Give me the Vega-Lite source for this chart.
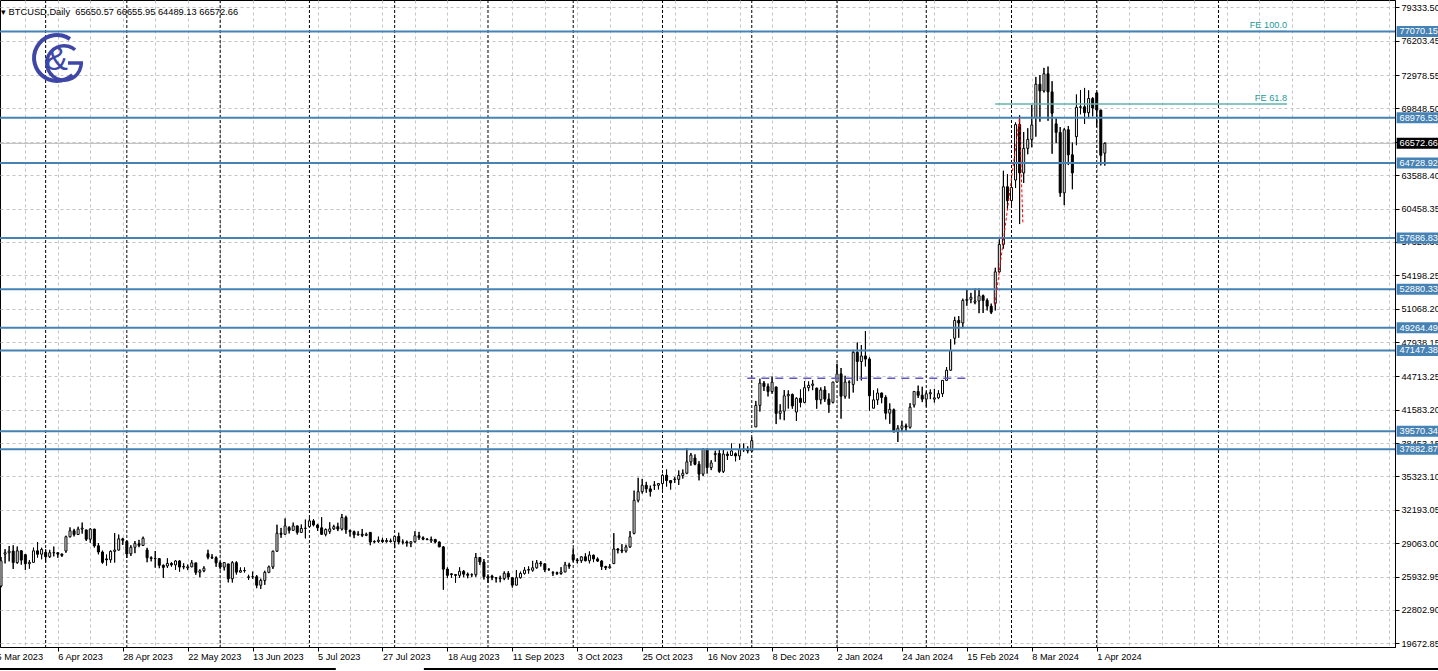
{
  "$schema": "https://vega.github.io/schema/vega-lite/v6.json",
  "width": 1395,
  "height": 647,
  "autosize": {"type": "none"},
  "padding": {"left": 0, "top": 0, "right": 43, "bottom": 24},
  "background": "white",
  "config": {"view": {"stroke": "black", "strokeWidth": 1}, "font": "Liberation Sans", "scale": {"continuousPadding": 0}},
  "title": {"text": "▾ BTCUSD,Daily\u00a0 65650.57 66655.95 64489.13 66572.66", "anchor": "start", "frame": "group", "orient": "top", "offset": -22, "fontSize": 9.3, "font": "Liberation Sans", "fontWeight": "normal", "color": "black", "baseline": "middle", "dx": 1},
  "datasets": {
    "candles": [
      {"i":0,"o":25040,"h":27760,"l":24930,"c":27420},{"i":1,"o":28040,"h":28500,"l":27170,"c":28170},{"i":2,"o":28170,"h":28800,"l":27360,"c":28320},{"i":3,"o":28320,"h":28870,"l":26650,"c":27250},{"i":4,"o":27250,"h":28750,"l":27140,"c":28350},{"i":5,"o":28350,"h":28400,"l":27050,"c":27480},{"i":6,"o":27990,"h":28030,"l":26560,"c":27140},{"i":7,"o":27140,"h":27490,"l":26680,"c":27270},{"i":8,"o":27270,"h":28650,"l":27250,"c":28350},{"i":9,"o":28350,"h":29170,"l":27720,"c":28030},
      {"i":10,"o":28030,"h":28640,"l":27560,"c":28480},{"i":11,"o":28200,"h":28490,"l":27270,"c":27800},{"i":12,"o":27800,"h":28440,"l":27680,"c":28170},{"i":13,"o":28170,"h":28750,"l":27830,"c":28180},{"i":14,"o":28170,"h":28190,"l":27700,"c":28040},{"i":15,"o":28040,"h":28100,"l":27780,"c":27920},{"i":16,"o":28330,"h":29770,"l":28170,"c":29670},{"i":17,"o":29670,"h":30550,"l":29610,"c":30230},{"i":18,"o":30230,"h":30410,"l":29700,"c":29880},{"i":19,"o":29880,"h":30610,"l":29850,"c":30390},
      {"i":20,"o":30390,"h":31000,"l":29970,"c":30480},{"i":21,"o":30310,"h":30320,"l":29270,"c":29440},{"i":22,"o":29440,"h":30470,"l":29110,"c":30390},{"i":23,"o":30390,"h":30410,"l":28660,"c":28820},{"i":24,"o":28820,"h":29080,"l":28020,"c":28240},{"i":25,"o":28240,"h":28370,"l":27140,"c":27270},{"i":26,"o":27590,"h":28000,"l":26970,"c":27510},{"i":27,"o":27510,"h":28390,"l":27240,"c":28300},{"i":28,"o":28300,"h":30020,"l":27250,"c":28420},{"i":29,"o":28420,"h":29870,"l":28390,"c":29470},
      {"i":30,"o":29470,"h":29570,"l":28900,"c":29340},{"i":31,"o":29230,"h":29330,"l":27680,"c":28070},{"i":32,"o":28070,"h":28880,"l":27870,"c":28680},{"i":33,"o":28680,"h":29270,"l":28130,"c":29030},{"i":34,"o":29030,"h":29380,"l":28690,"c":28850},{"i":35,"o":28850,"h":29680,"l":28800,"c":29530},{"i":36,"o":28430,"h":28630,"l":27280,"c":27700},{"i":37,"o":27700,"h":27830,"l":27360,"c":27630},{"i":38,"o":27630,"h":28330,"l":26770,"c":27620},{"i":39,"o":27620,"h":27640,"l":26720,"c":26990},
      {"i":40,"o":26990,"h":27060,"l":25810,"c":26800},{"i":41,"o":26930,"h":27650,"l":26750,"c":27170},{"i":42,"o":27170,"h":27290,"l":26870,"c":27030},{"i":43,"o":27030,"h":27470,"l":26570,"c":27400},{"i":44,"o":27400,"h":27460,"l":26390,"c":26830},{"i":45,"o":26830,"h":27180,"l":26630,"c":26890},{"i":46,"o":26750,"h":27060,"l":26540,"c":26850},{"i":47,"o":26850,"h":27480,"l":26810,"c":27220},{"i":48,"o":27220,"h":27220,"l":26100,"c":26330},{"i":49,"o":26330,"h":26620,"l":25880,"c":26480},
      {"i":50,"o":26480,"h":26900,"l":26350,"c":26720},{"i":51,"o":28080,"h":28450,"l":27560,"c":27750},{"i":52,"o":27750,"h":28040,"l":27580,"c":27700},{"i":53,"o":27700,"h":27830,"l":26850,"c":27220},{"i":54,"o":27220,"h":27350,"l":26610,"c":26820},{"i":55,"o":26820,"h":27300,"l":26510,"c":27250},{"i":56,"o":27120,"h":27130,"l":25390,"c":25730},{"i":57,"o":25730,"h":27380,"l":25380,"c":27240},{"i":58,"o":27240,"h":27370,"l":26130,"c":26350},{"i":59,"o":26350,"h":26790,"l":26320,"c":26500},
      {"i":60,"o":26500,"h":26790,"l":26320,"c":26480},{"i":61,"o":25850,"h":26100,"l":25620,"c":25910},{"i":62,"o":25910,"h":26400,"l":25730,"c":25920},{"i":63,"o":25920,"h":26080,"l":24850,"c":25120},{"i":64,"o":25120,"h":25740,"l":24770,"c":25570},{"i":65,"o":25570,"h":26480,"l":25160,"c":26330},{"i":66,"o":26330,"h":26960,"l":26260,"c":26840},{"i":67,"o":26840,"h":28370,"l":26650,"c":28310},{"i":68,"o":28310,"h":30800,"l":28270,"c":30000},{"i":69,"o":30000,"h":30500,"l":29570,"c":29900},
      {"i":70,"o":29900,"h":31390,"l":29840,"c":30690},{"i":71,"o":30530,"h":30660,"l":29980,"c":30270},{"i":72,"o":30270,"h":31000,"l":30230,"c":30690},{"i":73,"o":30690,"h":30700,"l":29880,"c":30080},{"i":74,"o":30080,"h":30820,"l":30050,"c":30450},{"i":75,"o":30450,"h":31280,"l":29520,"c":30480},{"i":76,"o":30620,"h":31390,"l":30590,"c":31160},{"i":77,"o":31160,"h":31320,"l":30650,"c":30770},{"i":78,"o":30770,"h":30880,"l":30220,"c":30510},{"i":79,"o":30510,"h":31500,"l":29850,"c":29900},
      {"i":80,"o":29900,"h":30440,"l":29720,"c":30350},{"i":81,"o":30170,"h":31030,"l":29950,"c":30410},{"i":82,"o":30410,"h":30790,"l":30300,"c":30620},{"i":83,"o":30620,"h":30980,"l":30200,"c":30390},{"i":84,"o":30390,"h":31810,"l":30260,"c":31480},{"i":85,"o":31480,"h":31640,"l":29950,"c":30320},{"i":86,"o":30250,"h":30340,"l":29690,"c":30140},{"i":87,"o":30140,"h":30240,"l":29540,"c":29860},{"i":88,"o":29860,"h":30190,"l":29770,"c":29910},{"i":89,"o":29910,"h":30400,"l":29640,"c":29800},
      {"i":90,"o":29800,"h":30050,"l":29730,"c":29900},{"i":91,"o":30080,"h":30100,"l":28880,"c":29180},{"i":92,"o":29180,"h":29330,"l":29070,"c":29230},{"i":93,"o":29230,"h":29680,"l":29110,"c":29350},{"i":94,"o":29350,"h":29570,"l":29090,"c":29210},{"i":95,"o":29210,"h":29530,"l":29130,"c":29320},{"i":96,"o":29280,"h":29490,"l":29140,"c":29230},{"i":97,"o":29230,"h":29730,"l":28600,"c":29700},{"i":98,"o":29700,"h":30050,"l":28960,"c":29180},{"i":99,"o":29180,"h":29410,"l":28960,"c":29170},
      {"i":100,"o":29180,"h":29310,"l":28750,"c":29080},{"i":101,"o":29050,"h":29240,"l":28700,"c":29200},{"i":102,"o":29200,"h":30190,"l":29120,"c":29770},{"i":103,"o":29770,"h":30130,"l":29380,"c":29580},{"i":104,"o":29580,"h":29700,"l":29350,"c":29440},{"i":105,"o":29440,"h":29540,"l":29350,"c":29400},{"i":106,"o":29290,"h":29680,"l":29100,"c":29410},{"i":107,"o":29410,"h":29470,"l":29060,"c":29170},{"i":108,"o":29170,"h":29230,"l":28700,"c":28720},{"i":109,"o":28720,"h":28770,"l":24700,"c":26630},
      {"i":110,"o":26630,"h":26800,"l":25800,"c":26050},{"i":111,"o":26190,"h":26260,"l":25810,"c":26120},{"i":112,"o":26120,"h":26130,"l":25360,"c":26050},{"i":113,"o":26050,"h":26800,"l":25800,"c":26430},{"i":114,"o":26430,"h":26550,"l":25880,"c":26160},{"i":115,"o":26160,"h":26310,"l":25780,"c":26060},{"i":116,"o":26100,"h":26230,"l":25880,"c":26110},{"i":117,"o":26110,"h":28140,"l":25920,"c":27730},{"i":118,"o":27730,"h":27760,"l":27030,"c":27300},{"i":119,"o":27300,"h":27580,"l":25660,"c":25930},
      {"i":120,"o":25930,"h":26130,"l":25340,"c":25800},{"i":121,"o":25970,"h":26100,"l":25600,"c":25830},{"i":122,"o":25830,"h":25860,"l":25380,"c":25790},{"i":123,"o":25790,"h":26010,"l":25400,"c":25750},{"i":124,"o":25750,"h":26420,"l":25600,"c":26240},{"i":125,"o":26240,"h":26440,"l":25650,"c":25900},{"i":126,"o":25830,"h":25880,"l":24900,"c":25130},{"i":127,"o":25130,"h":26550,"l":25130,"c":25830},{"i":128,"o":25830,"h":26400,"l":25760,"c":26230},{"i":129,"o":26230,"h":26820,"l":26130,"c":26540},
      {"i":130,"o":26540,"h":26890,"l":26220,"c":26600},{"i":131,"o":26530,"h":27410,"l":26400,"c":26760},{"i":132,"o":26760,"h":27490,"l":26680,"c":27210},{"i":133,"o":27210,"h":27390,"l":26880,"c":27130},{"i":134,"o":27130,"h":27160,"l":26360,"c":26570},{"i":135,"o":26570,"h":26740,"l":26490,"c":26580},{"i":136,"o":26260,"h":26440,"l":26000,"c":26300},{"i":137,"o":26300,"h":26390,"l":26090,"c":26220},{"i":138,"o":26220,"h":26820,"l":26110,"c":26370},{"i":139,"o":26370,"h":27310,"l":26340,"c":27030},
      {"i":140,"o":27030,"h":27230,"l":26670,"c":26910},{"i":141,"o":27990,"h":28590,"l":27320,"c":27500},{"i":142,"o":27500,"h":27660,"l":27170,"c":27430},{"i":143,"o":27430,"h":27830,"l":27230,"c":27790},{"i":144,"o":27790,"h":28120,"l":27370,"c":27420},{"i":145,"o":27420,"h":28290,"l":27180,"c":27950},{"i":146,"o":27940,"h":27990,"l":27290,"c":27590},{"i":147,"o":27590,"h":27730,"l":27300,"c":27390},{"i":148,"o":27390,"h":27480,"l":26560,"c":26880},{"i":149,"o":26880,"h":26940,"l":26560,"c":26760},
      {"i":150,"o":26760,"h":27100,"l":26690,"c":26860},{"i":151,"o":27150,"h":30000,"l":27110,"c":28520},{"i":152,"o":28520,"h":28610,"l":28110,"c":28420},{"i":153,"o":28420,"h":28970,"l":28140,"c":28330},{"i":154,"o":28330,"h":28920,"l":28190,"c":28720},{"i":155,"o":28720,"h":30200,"l":28630,"c":29670},{"i":156,"o":29990,"h":34000,"l":29900,"c":33090},{"i":157,"o":33090,"h":35200,"l":32900,"c":33900},{"i":158,"o":33900,"h":35100,"l":33720,"c":34500},{"i":159,"o":34500,"h":34820,"l":33800,"c":34160},
      {"i":160,"o":34160,"h":34470,"l":33450,"c":33910},{"i":161,"o":34530,"h":34880,"l":34070,"c":34500},{"i":162,"o":34500,"h":34710,"l":34110,"c":34660},{"i":163,"o":34660,"h":35570,"l":34100,"c":35440},{"i":164,"o":35440,"h":35980,"l":34380,"c":34940},{"i":165,"o":34940,"h":34940,"l":34100,"c":34730},{"i":166,"o":35080,"h":35280,"l":34730,"c":35050},{"i":167,"o":35050,"h":35890,"l":34530,"c":35420},{"i":168,"o":35420,"h":35980,"l":35130,"c":35630},{"i":169,"o":35630,"h":37960,"l":35540,"c":36700},
      {"i":170,"o":36700,"h":37530,"l":36340,"c":37330},{"i":171,"o":37060,"h":37400,"l":36380,"c":36470},{"i":172,"o":36470,"h":36760,"l":34960,"c":35550},{"i":173,"o":35550,"h":37950,"l":35370,"c":37880},{"i":174,"o":37880,"h":37930,"l":35600,"c":36160},{"i":175,"o":36160,"h":36860,"l":35920,"c":36600},{"i":176,"o":37380,"h":37740,"l":36710,"c":37480},{"i":177,"o":37480,"h":37860,"l":35670,"c":35800},{"i":178,"o":35800,"h":37870,"l":35650,"c":37420},{"i":179,"o":37420,"h":37650,"l":36880,"c":37290},
      {"i":180,"o":37290,"h":38420,"l":37260,"c":37720},{"i":181,"o":37460,"h":37560,"l":36750,"c":37250},{"i":182,"o":37250,"h":38380,"l":36880,"c":37830},{"i":183,"o":37830,"h":38420,"l":37630,"c":37850},{"i":184,"o":37850,"h":38150,"l":37500,"c":37720},{"i":185,"o":37720,"h":38990,"l":37620,"c":38690},{"i":186,"o":39970,"h":42410,"l":39970,"c":41990},{"i":187,"o":41990,"h":44490,"l":41420,"c":44080},{"i":188,"o":44080,"h":44270,"l":43350,"c":43770},{"i":189,"o":43770,"h":44040,"l":42830,"c":43290},
      {"i":190,"o":43290,"h":44700,"l":43080,"c":44170},{"i":191,"o":43720,"h":43750,"l":40240,"c":41240},{"i":192,"o":41240,"h":42100,"l":40680,"c":41450},{"i":193,"o":41450,"h":43430,"l":40600,"c":42890},{"i":194,"o":42890,"h":43400,"l":41700,"c":43020},{"i":195,"o":43020,"h":43090,"l":41680,"c":41940},{"i":196,"o":41370,"h":42740,"l":40530,"c":42660},{"i":197,"o":42660,"h":43480,"l":41820,"c":42270},{"i":198,"o":42270,"h":44280,"l":42200,"c":43650},{"i":199,"o":43650,"h":44240,"l":43330,"c":43870},
      {"i":200,"o":43870,"h":44380,"l":43420,"c":43990},{"i":201,"o":43610,"h":43650,"l":41680,"c":42520},{"i":202,"o":42520,"h":43680,"l":42100,"c":43440},{"i":203,"o":43440,"h":43790,"l":42320,"c":42580},{"i":204,"o":42580,"h":43120,"l":41300,"c":42070},{"i":205,"o":42280,"h":44200,"l":42180,"c":44180},{"i":206,"o":44180,"h":45900,"l":44180,"c":44950},{"i":207,"o":44950,"h":45500,"l":40750,"c":42850},{"i":208,"o":42850,"h":44770,"l":42630,"c":44180},{"i":209,"o":44180,"h":44340,"l":42630,"c":44160},
      {"i":210,"o":43960,"h":47200,"l":43200,"c":46970},{"i":211,"o":46970,"h":47890,"l":44300,"c":46110},{"i":212,"o":46110,"h":47650,"l":44330,"c":46630},{"i":213,"o":46630,"h":48970,"l":45650,"c":46340},{"i":214,"o":46340,"h":46500,"l":41500,"c":42890},{"i":215,"o":41730,"h":43400,"l":41720,"c":42510},{"i":216,"o":42510,"h":43570,"l":42050,"c":43150},{"i":217,"o":43150,"h":43190,"l":42200,"c":42740},{"i":218,"o":42740,"h":42930,"l":40680,"c":41260},{"i":219,"o":41260,"h":42180,"l":40270,"c":41620},
      {"i":220,"o":41580,"h":41690,"l":39480,"c":39500},{"i":221,"o":39500,"h":40130,"l":38560,"c":39850},{"i":222,"o":39850,"h":40550,"l":39490,"c":40080},{"i":223,"o":40080,"h":40280,"l":39520,"c":39940},{"i":224,"o":39940,"h":42200,"l":39820,"c":41820},{"i":225,"o":42030,"h":43310,"l":41800,"c":43300},{"i":226,"o":43300,"h":43850,"l":42690,"c":42940},{"i":227,"o":42940,"h":43740,"l":42300,"c":42580},{"i":228,"o":42580,"h":43290,"l":41880,"c":43080},{"i":229,"o":43080,"h":43480,"l":42580,"c":43190},
      {"i":230,"o":42580,"h":43540,"l":42260,"c":42700},{"i":231,"o":42700,"h":43400,"l":42580,"c":43090},{"i":232,"o":43090,"h":44360,"l":42780,"c":44340},{"i":233,"o":44340,"h":45580,"l":44330,"c":45290},{"i":234,"o":45290,"h":48190,"l":45260,"c":47130},{"i":235,"o":48290,"h":50300,"l":47710,"c":49960},{"i":236,"o":49960,"h":50370,"l":48340,"c":49720},{"i":237,"o":49720,"h":52000,"l":49230,"c":51840},{"i":238,"o":51840,"h":52830,"l":51330,"c":51940},{"i":239,"o":51940,"h":52550,"l":51580,"c":52130},
      {"i":240,"o":51660,"h":52950,"l":51480,"c":51780},{"i":241,"o":51780,"h":52960,"l":50640,"c":52280},{"i":242,"o":52280,"h":52380,"l":50660,"c":51840},{"i":243,"o":51840,"h":52020,"l":50900,"c":51300},{"i":244,"o":51300,"h":51540,"l":50560,"c":50730},{"i":245,"o":51560,"h":54900,"l":50900,"c":54520},{"i":246,"o":54520,"h":57570,"l":54450,"c":57090},{"i":247,"o":57090,"h":64000,"l":56700,"c":62500},{"i":248,"o":62500,"h":63680,"l":60360,"c":61200},{"i":249,"o":61200,"h":63160,"l":60780,"c":62440},
      {"i":250,"o":63130,"h":68530,"l":62380,"c":68330},{"i":251,"o":68330,"h":69200,"l":59000,"c":63800},{"i":252,"o":63800,"h":67640,"l":62850,"c":66100},{"i":253,"o":66100,"h":67990,"l":65550,"c":66940},{"i":254,"o":66940,"h":70170,"l":66200,"c":68300},{"i":255,"o":69000,"h":72800,"l":67200,"c":72120},{"i":256,"o":72120,"h":72970,"l":68600,"c":71480},{"i":257,"o":71480,"h":73650,"l":71340,"c":73100},{"i":258,"o":73100,"h":73780,"l":68690,"c":71400},{"i":259,"o":71400,"h":72400,"l":65600,"c":69400},
      {"i":260,"o":68400,"h":68900,"l":66600,"c":67600},{"i":261,"o":67600,"h":68100,"l":61560,"c":61930},{"i":262,"o":61930,"h":68000,"l":60780,"c":67850},{"i":263,"o":67850,"h":68200,"l":64530,"c":65500},{"i":264,"o":65500,"h":66650,"l":62270,"c":63800},{"i":265,"o":67200,"h":71150,"l":66400,"c":69950},{"i":266,"o":69950,"h":71560,"l":69300,"c":70000},{"i":267,"o":70000,"h":71770,"l":68400,"c":69450},{"i":268,"o":69450,"h":71540,"l":68930,"c":70780},{"i":269,"o":70780,"h":70900,"l":69100,"c":69890},
      {"i":270,"o":71300,"h":71350,"l":68100,"c":69700},{"i":271,"o":69700,"h":69700,"l":64500,"c":65450},{"i":272,"o":65650.57,"h":66655.95,"l":64489.13,"c":66572.66}
    ],
    "levels": [
      {"p":77070.15,"t":"77070.15"},{"p":68976.53,"t":"68976.53"},{"p":64728.92,"t":"64728.92"},{"p":57686.83,"t":"57686.83"},{"p":52880.33,"t":"52880.33"},{"p":49264.49,"t":"49264.49"},{"p":47147.38,"t":"47147.38"},{"p":39570.34,"t":"39570.34"},{"p":37882.87,"t":"37882.87"}
    ],
    "last": [{"p":66572.66,"t":"66572.66"}],
    "seps": [{"i":11},{"i":31},{"i":54},{"i":76},{"i":97},{"i":120},{"i":141},{"i":163},{"i":185},{"i":206},{"i":228},{"i":249},{"i":270},{"i":300}],
    "fe": [{"p":77070.15,"i1":245,"i2":316.9,"t":"FE 100.0"},{"p":70263,"i1":245,"i2":316.9,"t":"FE 61.8"}],
    "fepath": [{"k":0,"i":244.9,"p":51409},{"k":1,"i":250.97,"p":68949},{"k":2,"i":251.8,"p":59100}],
    "trend": [{"i1":183.9,"i2":238.8,"p":44533}],
    "cutlabel": [{"i":-2.35,"p":18391,"t":"15 Mar 2023"}],
    "frame": [{"i1":-1,"i2":82.5,"p":17266},{"i1":104.2,"i2":356,"p":17266}]
  },
  "layer": [
    {
      "data": {"name": "candles"},
      "mark": {"type": "rule", "color": "black", "strokeWidth": 1},
      "encoding": {
        "x": {"field": "i", "type": "quantitative",
          "scale": {"domain": [-0.25, 343.5], "nice": false, "zero": false, "padding": 0},
          "axis": {"orient": "bottom", "title": null, "tickCount": 200,
            "values": [6,14,22,30,38,46,54,62,70,78,86,94,102,110,118,126,134,142,150,158,166,174,182,190,198,206,214,222,230,238,246,254,262,270,278,286,294,302,310,318,326,334,342],
            "labelExpr": "(datum.value + 2) % 16 == 0 ? (['15 Mar 2023','6 Apr 2023','28 Apr 2023','22 May 2023','13 Jun 2023','5 Jul 2023','27 Jul 2023','18 Aug 2023','11 Sep 2023','3 Oct 2023','25 Oct 2023','16 Nov 2023','8 Dec 2023','2 Jan 2024','24 Jan 2024','15 Feb 2024','8 Mar 2024','1 Apr 2024'][(datum.value + 2) / 16] || '') : ''",
            "grid": true, "gridColor": "#c4c4c4", "gridDash": [3, 3], "gridWidth": 1,
            "tickSize": 4, "tickColor": "black",
            "tickOpacity": {"condition": {"test": "(datum.value + 2) % 16 == 0 && datum.value <= 270", "value": 1}, "value": 0},
            "domain": true, "domainColor": "black",
            "labelAlign": "left", "labelBaseline": "top", "labelPadding": 1, "labelFontSize": 9.2, "labelFont": "Liberation Sans", "labelColor": "black",
            "labelOverlap": false, "labelBound": false, "labelFlush": false}},
        "y": {"field": "l", "type": "quantitative",
          "scale": {"domain": [19329, 80018], "nice": false, "zero": false, "padding": 0},
          "axis": {"orient": "right", "title": null, "tickCount": 200,
            "values": [79333.5,76203.45,72978.55,69848.5,66718.45,63588.4,60458.35,57328.3,54198.25,51068.2,47938.15,44713.25,41583.2,38453.15,35323.1,32193.05,29063,25932.95,22802.9,19672.85],
            "format": ".2f",
            "grid": true, "gridColor": "#c4c4c4", "gridDash": [3, 3], "gridWidth": 1,
            "tickSize": 4, "tickColor": "black", "domainColor": "black",
            "labelPadding": 2, "labelFontSize": 9.2, "labelFont": "Liberation Sans", "labelColor": "black", "labelAlign": "left", "labelBaseline": "middle",
            "labelOverlap": false, "labelBound": false, "labelFlush": false}},
        "y2": {"field": "h"}
      }
    },
    {
      "data": {"name": "seps"},
      "mark": {"type": "rule", "color": "black", "strokeDash": [3, 2], "strokeWidth": 1},
      "encoding": {"x": {"field": "i", "type": "quantitative"}}
    },
    {
      "data": {"name": "last"},
      "mark": {"type": "rule", "color": "#b8b8b8", "strokeWidth": 1},
      "encoding": {"y": {"field": "p", "type": "quantitative"}}
    },
    {
      "data": {"name": "candles"},
      "mark": {"type": "rule", "color": "black", "strokeWidth": 1},
      "encoding": {
        "x": {"field": "i", "type": "quantitative"},
        "y": {"field": "l", "type": "quantitative"},
        "y2": {"field": "h"}
      }
    },
    {
      "data": {"name": "candles"},
      "mark": {"type": "bar", "size": 2, "stroke": "black", "strokeWidth": 1, "clip": true},
      "encoding": {
        "x": {"field": "i", "type": "quantitative"},
        "y": {"field": "o", "type": "quantitative"},
        "y2": {"field": "c"},
        "fill": {"condition": {"test": "datum.c >= datum.o", "value": "#ffffff"}, "value": "#000000"}
      }
    },
    {
      "data": {"name": "fe"},
      "mark": {"type": "rule", "color": "#5fb5ae", "strokeWidth": 1.3},
      "encoding": {
        "x": {"field": "i1", "type": "quantitative"},
        "x2": {"field": "i2"},
        "y": {"field": "p", "type": "quantitative"}
      }
    },
    {
      "data": {"name": "levels"},
      "mark": {"type": "rule", "color": "#4682b4", "strokeWidth": 2},
      "encoding": {"y": {"field": "p", "type": "quantitative"}}
    },
    {
      "data": {"name": "trend"},
      "mark": {"type": "rule", "color": "#6257cc", "strokeWidth": 1.5, "strokeDash": [8, 6]},
      "encoding": {
        "x": {"field": "i1", "type": "quantitative"},
        "x2": {"field": "i2"},
        "y": {"field": "p", "type": "quantitative"}
      }
    },
    {
      "data": {"name": "fepath"},
      "mark": {"type": "line", "color": "#ff0000", "strokeWidth": 1, "strokeDash": [3, 2]},
      "encoding": {
        "x": {"field": "i", "type": "quantitative"},
        "y": {"field": "p", "type": "quantitative"},
        "order": {"field": "k"}
      }
    },
    {
      "data": {"name": "fe"},
      "mark": {"type": "text", "align": "right", "baseline": "bottom", "dy": -1, "fontSize": 9.2, "font": "Liberation Sans", "color": "#23989a"},
      "encoding": {
        "x": {"field": "i2", "type": "quantitative"},
        "y": {"field": "p", "type": "quantitative"},
        "text": {"field": "t"}
      }
    },
    {
      "data": {"name": "cutlabel"},
      "mark": {"type": "text", "align": "left", "baseline": "middle", "fontSize": 9.2, "font": "Liberation Sans", "color": "black"},
      "encoding": {
        "x": {"field": "i", "type": "quantitative"},
        "y": {"field": "p", "type": "quantitative"},
        "text": {"field": "t"}
      }
    },
    {
      "data": {"name": "frame"},
      "mark": {"type": "rule", "color": "black", "strokeWidth": 2},
      "encoding": {
        "x": {"field": "i1", "type": "quantitative"},
        "x2": {"field": "i2"},
        "y": {"field": "p", "type": "quantitative"}
      }
    },
    {
      "data": {"name": "levels"},
      "mark": {"type": "bar", "size": 11, "color": "#4682b4", "orient": "horizontal"},
      "encoding": {
        "x": {"datum": 343.9, "type": "quantitative"},
        "x2": {"datum": 356},
        "y": {"field": "p", "type": "quantitative"}
      }
    },
    {
      "data": {"name": "last"},
      "mark": {"type": "bar", "size": 11, "color": "#000000", "orient": "horizontal"},
      "encoding": {
        "x": {"datum": 343.9, "type": "quantitative"},
        "x2": {"datum": 356},
        "y": {"field": "p", "type": "quantitative"}
      }
    },
    {
      "data": {"name": "levels"},
      "mark": {"type": "text", "align": "left", "baseline": "middle", "dx": 3, "fontSize": 9.2, "font": "Liberation Sans", "color": "white"},
      "encoding": {
        "x": {"datum": 343.9, "type": "quantitative"},
        "y": {"field": "p", "type": "quantitative"},
        "text": {"field": "t"}
      }
    },
    {
      "data": {"name": "last"},
      "mark": {"type": "text", "align": "left", "baseline": "middle", "dx": 3, "fontSize": 9.2, "font": "Liberation Sans", "color": "white"},
      "encoding": {
        "x": {"datum": 343.9, "type": "quantitative"},
        "y": {"field": "p", "type": "quantitative"},
        "text": {"field": "t"}
      }
    },
    {
      "data": {"values": [{"k": "C"}]},
      "mark": {"type": "arc", "radius": 25, "radius2": 21, "theta": 2.4, "theta2": 6.88, "color": "#3e47a6"},
      "encoding": {
        "x": {"datum": 13.8, "type": "quantitative"},
        "y": {"datum": 74578, "type": "quantitative"}
      }
    },
    {
      "data": {"values": [{"k": "G"}]},
      "mark": {"type": "arc", "radius": 19, "radius2": 15.5, "theta": 1.57, "theta2": 6.98, "color": "#3e47a6"},
      "encoding": {
        "x": {"datum": 15.52, "type": "quantitative"},
        "y": {"datum": 74109, "type": "quantitative"}
      }
    },
    {
      "data": {"values": [{"k": "bar"}]},
      "mark": {"type": "rule", "color": "#3e47a6", "strokeWidth": 3.5},
      "encoding": {
        "x": {"datum": 16.5, "type": "quantitative"},
        "x2": {"datum": 20.2},
        "y": {"datum": 74109, "type": "quantitative"}
      }
    },
    {
      "data": {"values": [{"t": "&"}]},
      "mark": {"type": "text", "align": "center", "baseline": "middle", "fontSize": 34, "font": "Liberation Sans", "color": "#3e47a6"},
      "encoding": {
        "x": {"datum": 13.67, "type": "quantitative"},
        "y": {"datum": 74390, "type": "quantitative"},
        "text": {"field": "t"}
      }
    }
  ]
}
